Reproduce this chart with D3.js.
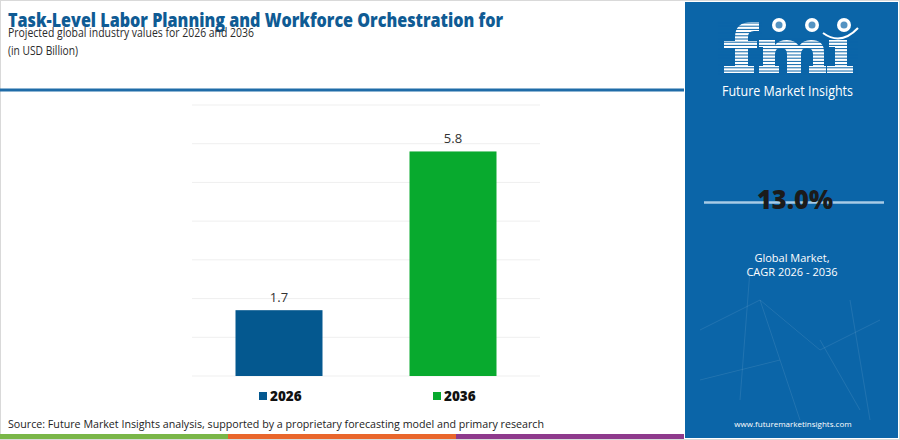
<!DOCTYPE html>
<html><head><meta charset="utf-8">
<script src="https://cdn.jsdelivr.net/npm/d3@7"></script>
<style>html,body{margin:0;padding:0;background:#fff;}svg{display:block;}</style>
</head><body>
<svg id="c" width="900" height="440"></svg>
<script>
const categories = ["2026", "2036"];
const values = [1.7, 5.8];
const barColors = ["#04588f", "#08aa2e"];
const yTicks = [0, 1, 2, 3, 4, 5, 6, 7];
const titleText = "Task-Level Labor Planning and Workforce Orchestration for";
const subtitleText = "Projected global industry values for 2026 and 2036";
const unitText = "(in USD Billion)";
const sourceText = "Source: Future Market Insights analysis, supported by a proprietary forecasting model and primary research";
const cagrText = "13.0%";
const cagrLabel = ["Global Market,", "CAGR 2026 - 2036"];
const siteText = "www.futuremarketinsights.com";
const stripColors = ["#7ab648", "#e9662c", "#8e3a8c"];

const svg = d3.select("#c");
const F = "'Open Sans', sans-serif";
const panel = "#0b65a8";

// outer border
svg.append("rect").attr("x",0.5).attr("y",0.5).attr("width",899).attr("height",439)
  .attr("fill","#fff").attr("stroke","#d9d9d9");

// header
svg.append("text").attr("x",8).attr("y",27).attr("font-family",F)
  .attr("font-weight",800).attr("font-size",19.5).attr("fill","#0f5b94")
  .attr("textLength",495).attr("lengthAdjust","spacingAndGlyphs").text(titleText);
svg.append("text").attr("x",8).attr("y",37).attr("font-family",F)
  .attr("font-size",12.5).attr("fill","#2b2b2b")
  .attr("textLength",246).attr("lengthAdjust","spacingAndGlyphs").text(subtitleText);
svg.append("text").attr("x",8).attr("y",55).attr("font-family",F)
  .attr("font-size",12.5).attr("fill","#2b2b2b")
  .attr("textLength",70).attr("lengthAdjust","spacingAndGlyphs").text(unitText);
svg.append("rect").attr("x",0).attr("y",88.5).attr("width",684).attr("height",3).attr("fill","#1f6ca8");

// chart
const x = d3.scaleBand().domain(categories).range([192,540]).paddingInner(0.5).paddingOuter(0.25);
const y = d3.scaleLinear().domain([0,7]).range([376,105]);

svg.append("g").selectAll("line").data(yTicks).join("line")
  .attr("x1",192).attr("x2",540).attr("y1",d=>y(d)).attr("y2",d=>y(d))
  .attr("stroke","#efefef").attr("stroke-width",1);

svg.append("g").selectAll("rect").data(categories).join("rect")
  .attr("x",d=>x(d)).attr("width",x.bandwidth())
  .attr("y",(d,i)=>y(values[i])).attr("height",(d,i)=>y(0)-y(values[i]))
  .attr("fill",(d,i)=>barColors[i]);

svg.append("g").selectAll("text").data(categories).join("text")
  .attr("x",d=>x(d)+x.bandwidth()/2).attr("y",(d,i)=>y(values[i])-8)
  .attr("text-anchor","middle").attr("font-family",F)
  .attr("font-size",13).attr("fill","#333").text((d,i)=>values[i].toFixed(1));

// legend
const lg = svg.append("g").selectAll("g").data(categories).join("g")
  .attr("transform",d=>`translate(${x(d)+x.bandwidth()/2-20},396)`);
lg.append("rect").attr("x",0).attr("y",-4).attr("width",8).attr("height",8).attr("fill",(d,i)=>barColors[i]);
lg.append("text").attr("x",11).attr("y",5).attr("font-family",F)
  .attr("font-weight",800).attr("font-size",13.5).attr("fill","#111").text(d=>d);

// source
svg.append("text").attr("x",8).attr("y",428).attr("font-family",F)
  .attr("font-size",10.5).attr("fill","#222")
  .attr("textLength",536).attr("lengthAdjust","spacingAndGlyphs").text(sourceText);
const sx = d3.scaleBand().domain(stripColors).range([0,684]);
svg.append("g").selectAll("rect").data(stripColors).join("rect")
  .attr("x",d=>sx(d)).attr("width",sx.bandwidth()).attr("y",434).attr("height",5).attr("fill",d=>d);

// right panel
svg.append("rect").attr("x",685).attr("y",2).attr("width",213).attr("height",436).attr("fill",panel);
const net = [[700,330,760,300],[760,300,820,350],[820,350,880,320],[750,270,740,400],[820,340,860,410],[700,380,780,360],[850,300,870,420],[760,300,800,420]];
svg.append("g").selectAll("line").data(net).join("line")
  .attr("x1",d=>d[0]).attr("y1",d=>d[1]).attr("x2",d=>d[2]).attr("y2",d=>d[3])
  .attr("stroke","#ffffff").attr("stroke-opacity",0.09).attr("stroke-width",1);

// logo (graphic letters)
const logoPaths = [
  "M724,73 H754 V66 H748 V48 H757 V41 H748 V37 Q748,31 754,31 H759 V22 H752 Q735,22 735,37 V41 H724 V48 H735 V66 H724 Z",
  "M759,73 H779 V66 H775 V54 Q775,48 781,48 Q787,48 787,54 V73 H801 V54 Q801,48 807,48 Q813,48 813,54 V66 H809 V73 H826 V66 H824 V52 Q824,40 811,40 Q803,40 799,46 Q795,40 787,40 Q779,40 775,45 V40 H759 V47 H763 V66 H759 Z",
  "M827,73 H853 V66 H847 V40 H829 V47 H835 V66 H827 Z"
];
svg.append("g").selectAll("path").data(logoPaths).join("path").attr("d",d=>d).attr("fill","#fff");
const stripes = d3.range(23,75,3.2);
svg.append("g").selectAll("line").data(stripes).join("line")
  .attr("x1",718).attr("x2",d=>d<36?762:858).attr("y1",d=>d).attr("y2",d=>d)
  .attr("stroke",panel).attr("stroke-width",1);
const globes = [779,812,844];
svg.append("g").selectAll("circle").data(globes).join("circle")
  .attr("cx",d=>d).attr("cy",25).attr("r",7).attr("fill","#fff");
svg.append("g").selectAll("circle").data(globes).join("circle")
  .attr("cx",d=>d).attr("cy",25).attr("r",3.5).attr("fill",panel).attr("opacity",0.7);
svg.append("path").attr("d","M823,33 Q841,46 858,28").attr("fill","none").attr("stroke","#fff").attr("stroke-width",2);
svg.append("text").attr("x",722).attr("y",95.5).attr("font-family",F)
  .attr("font-size",14).attr("fill","#fff")
  .attr("textLength",131).attr("lengthAdjust","spacingAndGlyphs").text("Future Market Insights");
svg.append("line").attr("x1",685).attr("x2",700).attr("y1",89.5).attr("y2",89.5).attr("stroke",panel);

// CAGR
svg.append("line").attr("x1",704).attr("x2",884).attr("y1",202.5).attr("y2",202.5)
  .attr("stroke","#a9cbe6").attr("stroke-width",2.5);
svg.append("text").attr("x",795).attr("y",208.5).attr("text-anchor","middle").attr("font-family",F)
  .attr("font-weight",800).attr("font-size",27).attr("fill","#1b1b1b")
  .attr("textLength",76).attr("lengthAdjust","spacingAndGlyphs").text(cagrText);
svg.append("g").selectAll("text").data(cagrLabel).join("text")
  .attr("x",792).attr("y",(d,i)=>262+i*14).attr("text-anchor","middle")
  .attr("font-family",F).attr("font-size",11).attr("fill","#fff").text(d=>d);
svg.append("text").attr("x",793).attr("y",427).attr("text-anchor","middle")
  .attr("font-family",F).attr("font-size",8).attr("fill","#fff").text(siteText);
</script>
</body></html>
